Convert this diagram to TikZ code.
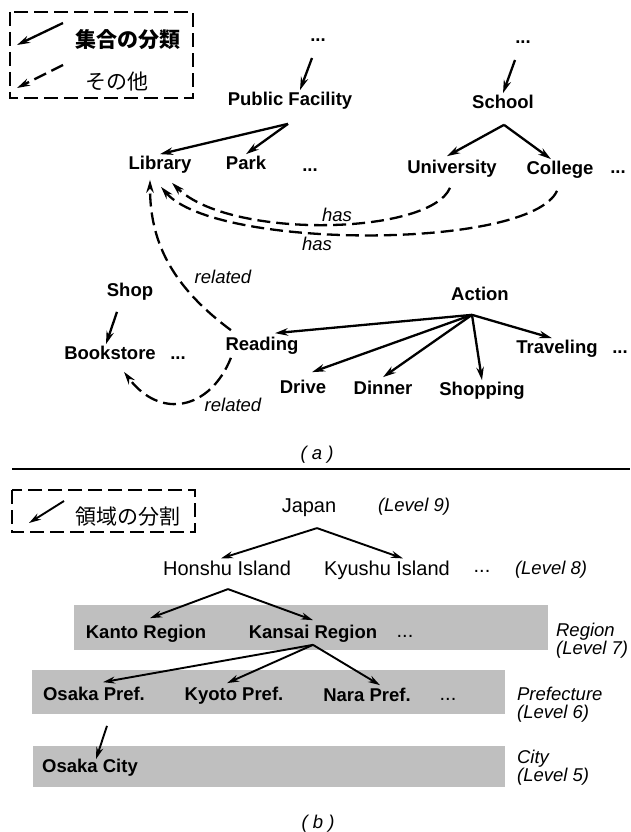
\documentclass[tikz,border=0pt]{standalone}
\usepackage{fontspec}
\setmainfont{Liberation Sans}
\newfontfamily\jpfont{Noto Sans CJK JP}
\usetikzlibrary{arrows.meta, calc, positioning}
\tikzset{
  % one picture unit is one pixel of the page, y runs downwards
  every picture/.append style = {line width=2.2pt, >={Stealth[length=13pt, width=7.5pt]}},
  isa/.style    = {->, line width=2.3pt, black},
  other/.style  = {->, line width=2.3pt, dash pattern=on 13pt off 6pt},
  part/.style   = {->, line width=1.9pt, >={Stealth[length=12pt, width=7pt]}},
  cls/.style    = {font=\fontsize{18.5}{20}\selectfont\bfseries, inner sep=1pt,
                   text height=13.5pt, text depth=4pt},
  area/.style   = {font=\fontsize{20}{22}\selectfont, inner sep=1pt,
                   text height=14.5pt, text depth=4.5pt},
  rel/.style    = {font=\fontsize{18.5}{20}\selectfont\itshape, inner sep=1pt,
                   text height=13.5pt, text depth=4pt},
  lvl/.style    = {font=\fontsize{18.5}{18}\selectfont\itshape, align=left,
                   anchor=west, inner sep=0pt},
  bdots/.style  = {font=\fontsize{18.5}{20}\selectfont\bfseries, inner sep=0pt,
                   text height=3pt, text depth=0pt},
  rdots/.style  = {font=\fontsize{20}{22}\selectfont, inner sep=0pt,
                   text height=3pt, text depth=0pt},
  keytxt/.style = {font=\fontsize{21}{22}\selectfont\jpfont, inner sep=1pt},
  keybox/.style = {line width=2.2pt, dash pattern=on 14pt off 6pt},
  band/.style   = {fill=black!25},
}

\begin{document}
\begin{tikzpicture}[x=1pt,y=-1pt]
  \useasboundingbox (0,0) rectangle (630,832);
  % --- (a) legend ---------------------------------------------------------
  \draw[keybox] (10,12) rectangle (193,98);
  \coordinate (k1s) at (63,23);  \coordinate (k1e) at (17,45);
  \coordinate (k2s) at (63,65);  \coordinate (k2e) at (17,88);
  \draw[isa] (k1s) -- (k1e);
  \draw[other] (k2s) -- (k2e);
  \node[keytxt, font=\fontsize{21}{22}\selectfont\jpfont\bfseries] (keyisa) at (128,40) {集合の分類};
  \node[keytxt] (keyother) at (117,82) {その他};
  % --- (a) classes --------------------------------------------------------
  \node[bdots] (top1) at (318,40) {...};
  \node[bdots] (top2) at (523,42) {...};
  \node[cls] (pf)     at (290,101) {Public Facility};
  \node[cls] (school) at (503,104) {School};
  \node[cls] (lib)    at (160,165) {Library};
  \node[cls] (park)   at (246,165) {Park};
  \node[bdots] (d1)   at (310,170) {...};
  \node[cls] (univ)   at (452,169) {University};
  \node[cls] (coll)   at (560,170) {College};
  \node[bdots] (d2)   at (618,172) {...};
  \node[cls] (shop)   at (130,292) {Shop};
  \node[cls] (book)   at (110,355) {Bookstore};
  \node[bdots] (d3)   at (178,358) {...};
  \node[cls] (read)   at (262,346) {Reading};
  \node[cls] (action) at (480,296) {Action};
  \node[cls] (drive)  at (303,389) {Drive};
  \node[cls] (dinner) at (383,390) {Dinner};
  \node[cls] (shopg)  at (482,391) {Shopping};
  \node[cls] (travel) at (557,349) {Traveling};
  \node[bdots] (d4)   at (620,352) {...};
  % labels of the dashed links
  \node[rel] (has1) at (337,217) {has};
  \node[rel] (has2) at (317,246) {has};
  \node[rel] (rel1) at (223,279) {related};
  \node[rel] (rel2) at (233,407) {related};
  % --- (a) set classification ---------------------------------------------
  \draw[isa] ([shift={(-6,18)}]top1.center) -- ([shift={(10,0)}]pf.north);
  \draw[isa] ([shift={(-8,18)}]top2.center) -- (school.north);
  \draw[isa] ([shift={(-2,12)}]pf.south) -- (lib.north);
  \draw[isa] ([shift={(-2,12)}]pf.south) -- (park.north);
  \draw[isa] ([shift={(1,10)}]school.south) -- ([shift={(-5,-2)}]univ.north);
  \draw[isa] ([shift={(1,10)}]school.south) -- ([shift={(-9,0)}]coll.north);
  \draw[isa] ([shift={(-13,9)}]shop.south) -- ([shift={(-4,0)}]book.north);
  \foreach \tgt/\dx/\dy in {read/13/-2, drive/9/-6, dinner/0/-2, shopg/0/0, travel/-5/0}
    \draw[isa] ([shift={(-8,8)}]action.south) -- ([shift={(\dx,\dy)}]\tgt.north);
  % --- (a) other links --------------------------------------------------------
  \draw[other] ([shift={(-2,8)}]univ.south) .. controls (430,235) and (230,240) .. ([shift={(12,7)}]lib.south);
  \draw[other] ([shift={(-3,10)}]coll.south) .. controls (530,250) and (215,250) .. ([shift={(1,11)}]lib.south);
  \draw[other] ([shift={(7.5,-5)}]read.north west) .. controls (170,285) and (150,240) .. ([shift={(-10,4)}]lib.south);
  \draw[other] ([shift={(7.5,1)}]read.south west) .. controls (210,410) and (160,420) .. ([shift={(14,6)}]book.south);
  \node[rel] (capa) at (317,455) {( a )};
  \draw[line width=2pt] (12,469) -- (630,469);
  % --- (b) legend ---------------------------------------------------------
  \draw[keybox] (12,490) rectangle (195,532);
  \coordinate (k3s) at (64,501);  \coordinate (k3e) at (29,523);
  \draw[part] (k3s) -- (k3e);
  \node[keytxt] (keypart) at (128,517) {領域の分割};
  % --- (b) level bands ----------------------------------------------------
  \fill[band] (74,605) rectangle (548,650);
  \fill[band] (32,670) rectangle (505,714);
  \fill[band] (33,746) rectangle (505,787);
  % --- (b) regions --------------------------------------------------------
  \node[area] (japan)  at (309,507) {Japan};
  \node[rel]  (lv9)    at (414,507) {(Level 9)};
  \node[area] (honshu) at (227,570) {Honshu Island};
  \node[area] (kyushu) at (387,570) {Kyushu Island};
  \node[rdots] (d5)    at (482,571) {...};
  \node[rel]  (lv8)    at (551,570) {(Level 8)};
  \node[cls]  (kanto)  at (146,634) {Kanto Region};
  \node[cls]  (kansai) at (313,634) {Kansai Region};
  \node[rdots] (d6)    at (405,636) {...};
  \node[lvl]  (lv7)    at (555,641) {Region\\(Level 7)};
  \node[cls]  (osakap) at (94,696)  {Osaka Pref.};
  \node[cls]  (kyotop) at (234,696) {Kyoto Pref.};
  \node[cls]  (narap)  at (367,697) {Nara Pref.};
  \node[rdots] (d7)    at (448,699) {...};
  \node[lvl]  (lv6)    at (516,705) {Prefecture\\(Level 6)};
  \node[cls]  (osakac) at (90,768)  {Osaka City};
  \node[lvl]  (lv5)    at (516,768) {City\\(Level 5)};
  % --- (b) partition of areas ------------------------------------------------
  \draw[part] ([shift={(8,9.5)}]japan.south) -- ([shift={(-6,0)}]honshu.north);
  \draw[part] ([shift={(8,9.5)}]japan.south) -- ([shift={(16,0)}]kyushu.north);
  \draw[part] ([shift={(1,7.5)}]honshu.south) -- ([shift={(4,-5)}]kanto.north);
  \draw[part] ([shift={(1,7.5)}]honshu.south) -- ([shift={(0,-3)}]kansai.north);
  \draw[part] (kansai.south) -- ([shift={(9,-3)}]osakap.north);
  \draw[part] (kansai.south) -- ([shift={(-7,-2)}]kyotop.north);
  \draw[part] (kansai.south) -- ([shift={(13,-1)}]narap.north);
  \draw[part] ([shift={(13,19)}]osakap.south) -- ([shift={(6,2)}]osakac.north);
  \node[rel] (capb) at (318,824) {( b )};
\end{tikzpicture}
\end{document}
